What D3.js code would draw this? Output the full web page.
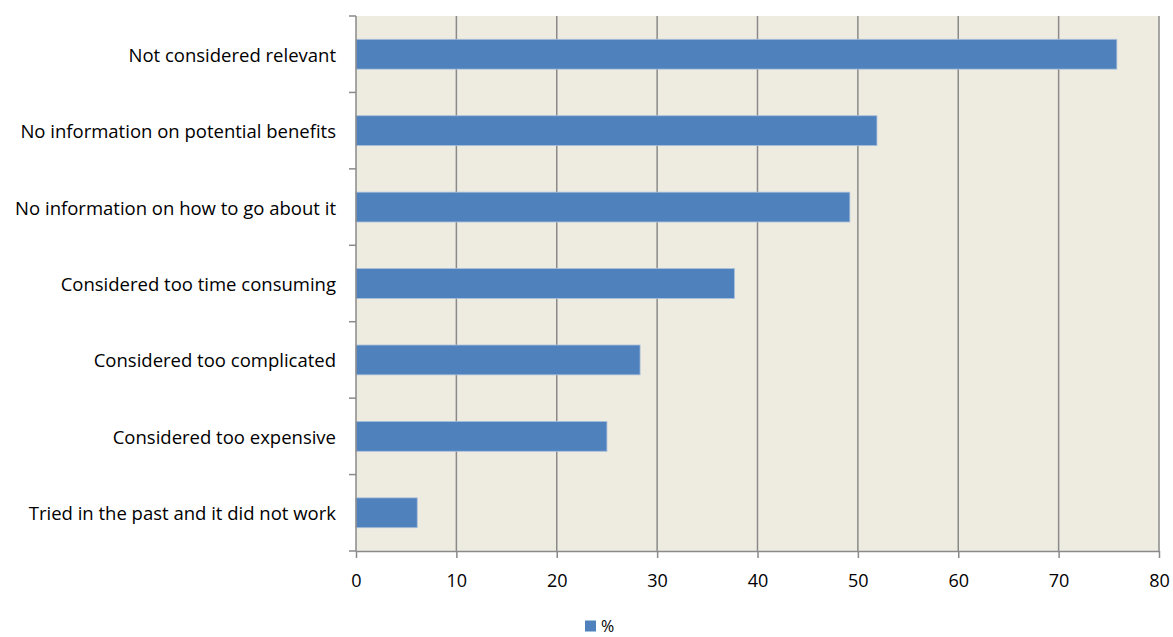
<!DOCTYPE html>
<html>
<head>
<meta charset="utf-8">
<script src="https://cdn.jsdelivr.net/npm/d3@7"></script>
<style>
  body { margin: 0; background: #fff; }
  svg { display: block; font-family: "Open Sans", "Liberation Sans", sans-serif; }
</style>
</head>
<body>
<svg id="chart" width="1173" height="637"></svg>
<script>
const categories = [
  "Not considered relevant",
  "No information on potential benefits",
  "No information on how to go about it",
  "Considered too time consuming",
  "Considered too complicated",
  "Considered too expensive",
  "Tried in the past and it did not work"
];
const values = [75.8, 51.9, 49.2, 37.7, 28.3, 25.0, 6.1];
const xTicks = [0, 10, 20, 30, 40, 50, 60, 70, 80];
const seriesName = "%";

const svg = d3.select("#chart");
const plot = { left: 356, right: 1159, top: 16, bottom: 551 };
const gridColor = "#8a8a8a";

const x = d3.scaleLinear().domain([0, 80]).range([plot.left, plot.right]);
const y = d3.scaleBand().domain(categories).range([plot.top, plot.bottom])
  .paddingInner(0.61).paddingOuter(0.305);
const step = y.step();

// plot background
svg.append("rect")
  .attr("x", plot.left).attr("y", plot.top)
  .attr("width", plot.right - plot.left).attr("height", plot.bottom - plot.top)
  .attr("fill", "#EEEBE0");

// vertical gridlines
svg.append("g").selectAll("line").data(xTicks.slice(1)).join("line")
  .attr("x1", d => x(d)).attr("x2", d => x(d))
  .attr("y1", plot.top).attr("y2", plot.bottom)
  .attr("stroke", gridColor).attr("stroke-width", 1.5);

// bars
svg.append("g").selectAll("rect").data(categories).join("rect")
  .attr("x", x(0))
  .attr("y", d => y(d))
  .attr("width", (d, i) => x(values[i]) - x(0))
  .attr("height", y.bandwidth())
  .attr("fill", "#4F81BD")
  .attr("stroke", "#a9bfdc").attr("stroke-width", 0.8);

// y axis with ticks at category boundaries
const yAxis = svg.append("g");
yAxis.append("line")
  .attr("x1", plot.left).attr("x2", plot.left)
  .attr("y1", plot.top).attr("y2", plot.bottom)
  .attr("stroke", gridColor).attr("stroke-width", 1.5);
const bounds = d3.range(categories.length + 1).map(i => plot.top + i * step);
yAxis.selectAll("line.tick").data(bounds).join("line").attr("class", "tick")
  .attr("x1", plot.left - 7).attr("x2", plot.left)
  .attr("y1", d => d).attr("y2", d => d)
  .attr("stroke", gridColor).attr("stroke-width", 1.5);
yAxis.selectAll("text").data(categories).join("text")
  .attr("x", plot.left - 20)
  .attr("y", d => y(d) + y.bandwidth() / 2)
  .attr("text-anchor", "end").attr("dominant-baseline", "central")
  .attr("font-size", 18.5).attr("fill", "#000")
  .text(d => d);

// x axis
const xAxis = svg.append("g").attr("transform", `translate(0,${plot.bottom})`)
  .call(d3.axisBottom(x).tickValues(xTicks).tickSize(7).tickSizeOuter(0).tickPadding(16));
xAxis.select(".domain").attr("stroke", gridColor).attr("stroke-width", 1.5);
xAxis.selectAll(".tick line").attr("stroke", gridColor).attr("stroke-width", 1.5);
xAxis.selectAll(".tick text").attr("font-size", 18).attr("fill", "#000")
  .attr("font-family", "\"Open Sans\", \"Liberation Sans\", sans-serif");

// legend
const legend = svg.append("g").attr("transform", "translate(585,626)");
legend.append("rect").attr("x", 0).attr("y", -5.5).attr("width", 11).attr("height", 11)
  .attr("fill", "#4F81BD");
legend.append("text").attr("x", 16).attr("y", 0)
  .attr("dominant-baseline", "central").attr("font-size", 16).text(seriesName);
</script>
</body>
</html>
